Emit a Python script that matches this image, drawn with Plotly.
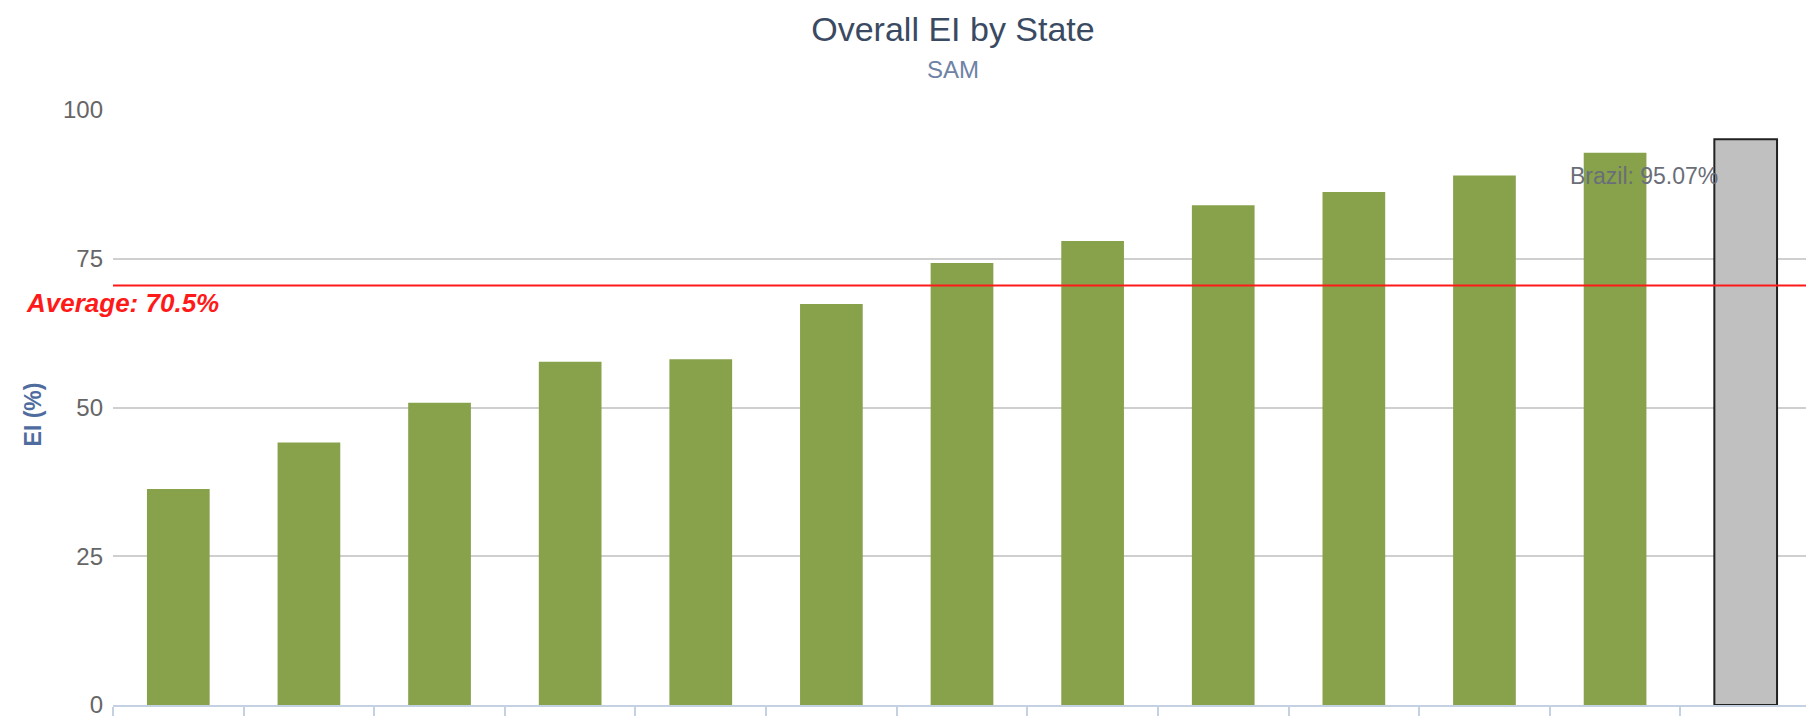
import plotly.graph_objects as go

# Data
states = ["S1", "S2", "S3", "S4", "S5", "S6", "S7", "S8", "S9", "S10", "S11", "S12", "Brazil"]
ei_values = [36.3, 44.1, 50.8, 57.7, 58.1, 67.4, 74.3, 78.0, 84.0, 86.2, 89.0, 92.8, 95.07]
average = 70.5
title_text = "Overall EI by State"
subtitle_text = "SAM"
y_ticks = [0, 25, 50, 75, 100]

W, H = 1814, 721
L, R, T, B = 105, 11, 102, 19
PW = W - L - R
PH = H - T - B


def px_x(px):
    return (px - L) / PW


def px_y(py):
    return (H - B - py) / PH


green = "#87A24B"
gray = "#C0C0C0"

colors = [green] * (len(states) - 1) + [gray]
line_colors = [green] * (len(states) - 1) + ["#222222"]
line_widths = [0] * (len(states) - 1) + [2]

fig = go.Figure()
fig.add_trace(go.Bar(
    x=states, y=ei_values,
    marker=dict(color=colors, line=dict(color=line_colors, width=line_widths)),
    width=0.48,
    showlegend=False,
))

fig.add_shape(type="line", xref="paper", yref="y", x0=0, x1=1, y0=average, y1=average,
              line=dict(color="#FF1A1A", width=2), layer="above")

font = "Liberation Sans, Arial, sans-serif"

fig.update_layout(
    width=W, height=H,
    margin=dict(l=L, r=R, t=T, b=B),
    paper_bgcolor="white", plot_bgcolor="white",
    font=dict(family=font),
    title=dict(text=title_text, x=945 / W, xanchor="center", xref="container",
               y=1 - 21 / H, yanchor="middle", yref="container",
               font=dict(size=34, color="#3A4A62", family=font)),
    bargap=0.52,
    xaxis=dict(
        type="category", showticklabels=False, showgrid=False,
        showline=True, linecolor="#C3D1E3", linewidth=2,
        ticks="outside", tickson="boundaries", ticklen=9, tickcolor="#C3D1E3", tickwidth=1.5,
        zeroline=False,
    ),
    yaxis=dict(
        range=[0, 100], tickvals=y_ticks, ticktext=[str(v) for v in y_ticks],
        showgrid=True, gridcolor="#CFCFCF", gridwidth=1.5,
        zeroline=False, showline=False,
        tickfont=dict(size=24, color="#666666", family=font),
        ticklabelstandoff=9,
    ),
)

fig.add_annotation(text=subtitle_text, xref="paper", yref="paper",
                   x=px_x(945), y=px_y(61), xanchor="center", yanchor="middle",
                   showarrow=False, font=dict(size=24, color="#6E82A6", family=font))

fig.add_annotation(text="<b>EI (%)</b>", xref="paper", yref="paper", textangle=-90,
                   x=px_x(25), y=px_y(409), xanchor="center", yanchor="middle",
                   showarrow=False, font=dict(size=23, color="#4E6C9E", family=font))

fig.add_annotation(text="<b><i>Average: %.1f%%</i></b>" % average, xref="paper", yref="y",
                   x=px_x(16), y=average, xanchor="left", yanchor="middle", yshift=-17,
                   showarrow=False, font=dict(size=26, color="#FF1A1A", family=font))

fig.add_annotation(text="%s: %.2f%%" % (states[-1], ei_values[-1]), xref="x", yref="y",
                   x=states[-1], y=ei_values[-1], xanchor="right", yanchor="middle",
                   xshift=-26, yshift=-37,
                   showarrow=False, font=dict(size=23, color="#6A6E78", family=font))

fig.write_html("out.html")
